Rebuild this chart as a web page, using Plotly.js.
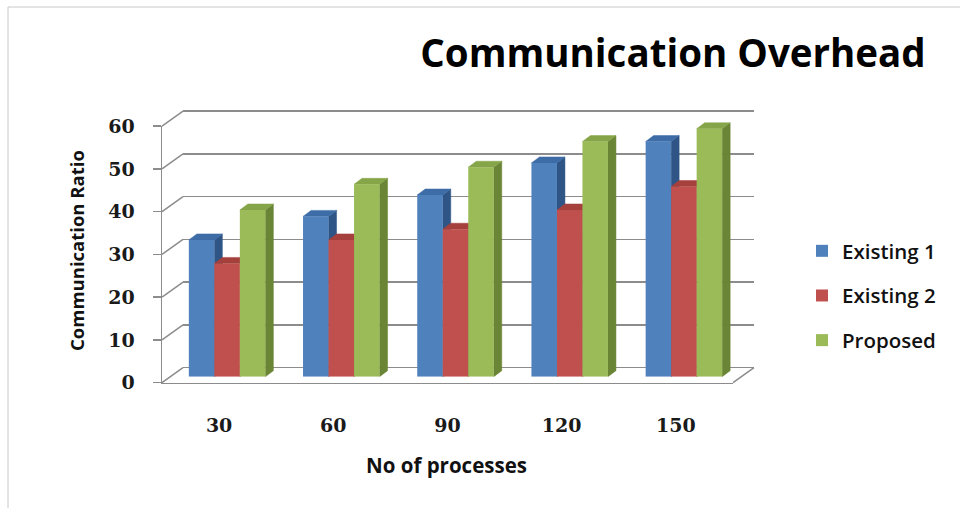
<!DOCTYPE html>
<html>
<head>
<meta charset="utf-8">
<script src="https://cdn.plot.ly/plotly-3.0.1.min.js"></script>
<style>
  html, body { margin: 0; padding: 0; background: #ffffff; }
  #chart { width: 960px; height: 508px; }
</style>
</head>
<body>
<div id="chart"></div>
<script>
// ---- data ----
const categories = ['30', '60', '90', '120', '150'];
const seriesNames = ['Existing 1', 'Existing 2', 'Proposed'];
const existing1 = [32, 37.5, 42.5, 50, 55];
const existing2 = [26.5, 32, 34.5, 39, 44.5];
const proposed = [39, 45, 49, 55, 58];
const yTicks = [0, 10, 20, 30, 40, 50, 60];

// ---- styling ----
const frontColors = ['#4f81bd', '#c0504d', '#9bbb59'];
const topColors = ['#3d6ca6', '#a5403d', '#86a548'];
const sideColors = ['#2e5585', '#8a3431', '#6a8535'];
const gridColor = '#8c8c8c';

// ---- pseudo-3D box geometry (pixels) ----
const W = 960, H = 508;
const FRONT = { x0: 162, x1: 733, y0: 382.7 };   // front floor edge at value 0
const K = 4.275;                                   // pixels per value unit
const YMAX = 60;
const BAR_SHIFT = { dx: 8, dy: -6 };               // bar plane behind the front edge
const BACK_SHIFT = { dx: 21, dy: -15 };            // back wall behind the front edge
const DEPTH_PX = { dx: 8, dy: 6 };                 // thickness of each bar
const GAP = 0.33;                                  // gap between category groups

const xdom = (a, b) => [a / W, b / W];
const ydom = (bottom, top) => [1 - bottom / H, 1 - top / H];

const nCat = categories.length;
const catIdx = categories.map((_, i) => i);
const pxPerCat = (FRONT.x1 - FRONT.x0) / nCat;
const depthX = DEPTH_PX.dx / pxPerCat;
const depthY = DEPTH_PX.dy / K;
const barW = (1 - GAP) / 3;

const values = [existing1, existing2, proposed];

// side and top faces of the bars, computed from the values
const faceTraces = [];
values.forEach((vals, s) => {
  const off = -(1 - GAP) / 2 + s * barW;
  const sx = [], sy = [], tx = [], ty = [];
  vals.forEach((v, i) => {
    const x0 = i + off, x1 = x0 + barW;
    sx.push(x1, x1 + depthX, x1 + depthX, x1, x1, null);
    sy.push(0, depthY, v + depthY, v, 0, null);
    tx.push(x0, x1, x1 + depthX, x0 + depthX, x0, null);
    ty.push(v, v, v + depthY, v + depthY, v, null);
  });
  faceTraces.push({
    type: 'scatter', mode: 'lines', x: sx, y: sy, fill: 'toself',
    fillcolor: sideColors[s], line: { color: sideColors[s], width: 0.5 },
    xaxis: 'x2', yaxis: 'y2', hoverinfo: 'skip', showlegend: false
  });
  faceTraces.push({
    type: 'scatter', mode: 'lines', x: tx, y: ty, fill: 'toself',
    fillcolor: topColors[s], line: { color: topColors[s], width: 0.5 },
    xaxis: 'x2', yaxis: 'y2', hoverinfo: 'skip', showlegend: false
  });
});

// front faces of the bars
const barTraces = values.map((vals, s) => ({
  type: 'bar', name: seriesNames[s], x: catIdx, y: vals,
  width: barW, offset: -(1 - GAP) / 2 + s * barW,
  marker: { color: frontColors[s], line: { width: 0 } },
  xaxis: 'x3', yaxis: 'y3', legendgroup: 'g' + s, hoverinfo: 'x+y+name'
}));

// placeholders so the wall and the front-axis subplots are drawn
const wallTrace = { type: 'scatter', x: [], y: [], xaxis: 'x', yaxis: 'y', showlegend: false, hoverinfo: 'skip' };
const frontTrace = { type: 'scatter', x: [], y: [], xaxis: 'x4', yaxis: 'y4', showlegend: false, hoverinfo: 'skip' };

// pixel positions
const backY0 = FRONT.y0 + BACK_SHIFT.dy;
const barY0 = FRONT.y0 + BAR_SHIFT.dy;
const yAt = (y0, v) => y0 - v * K;

// left wall diagonals and floor outline
const shapes = [];
yTicks.forEach(v => {
  shapes.push({
    type: 'line', xref: 'paper', yref: 'paper', layer: 'below',
    x0: FRONT.x0 / W, y0: 1 - yAt(FRONT.y0, v) / H,
    x1: (FRONT.x0 + BACK_SHIFT.dx) / W, y1: 1 - yAt(backY0, v) / H,
    line: { color: gridColor, width: 1.5 }
  });
});
shapes.push({
  type: 'line', xref: 'paper', yref: 'paper', layer: 'below',
  x0: FRONT.x1 / W, y0: 1 - FRONT.y0 / H,
  x1: (FRONT.x1 + BACK_SHIFT.dx) / W, y1: 1 - backY0 / H,
  line: { color: gridColor, width: 1.5 }
});
// chart frame
shapes.push({ type: 'line', xref: 'paper', yref: 'paper', x0: 8 / W, x1: 1, y0: 1 - 7 / H, y1: 1 - 7 / H, line: { color: '#c8c8c8', width: 1 } });
shapes.push({ type: 'line', xref: 'paper', yref: 'paper', x0: 8 / W, x1: 8 / W, y0: 0, y1: 1 - 7 / H, line: { color: '#c8c8c8', width: 1 } });

const hidden = { showgrid: false, zeroline: false, showline: false, showticklabels: false, ticks: '', automargin: false, fixedrange: true };
const tickFont = { family: 'DejaVu Serif, serif', size: 19, color: '#1a1a1a', weight: 'bold' };

const layout = {
  width: W, height: H,
  margin: { l: 0, r: 0, t: 0, b: 0, pad: 0 },
  paper_bgcolor: '#ffffff', plot_bgcolor: 'rgba(0,0,0,0)',
  showlegend: true,
  title: {
    text: 'Communication Overhead',
    x: 673 / W, xanchor: 'center', y: 1 - 54 / H, yanchor: 'middle',
    font: { family: 'Open Sans, sans-serif', size: 38.5, color: '#000000', weight: 'bold' }
  },
  // back wall with horizontal gridlines
  xaxis: Object.assign({}, hidden, {
    domain: xdom(FRONT.x0 + BACK_SHIFT.dx, FRONT.x1 + BACK_SHIFT.dx), range: [-0.5, nCat - 0.5]
  }),
  yaxis: Object.assign({}, hidden, {
    domain: ydom(yAt(backY0, -1), yAt(backY0, YMAX + 1)), range: [-1, YMAX + 1],
    showgrid: true, gridcolor: gridColor, gridwidth: 1.5, tickmode: 'array', tickvals: yTicks
  }),
  // bar plane: faces
  xaxis2: Object.assign({}, hidden, {
    domain: xdom(FRONT.x0 + BAR_SHIFT.dx, FRONT.x1 + BAR_SHIFT.dx), range: [-0.5, nCat - 0.5], anchor: 'y2'
  }),
  yaxis2: Object.assign({}, hidden, {
    domain: ydom(yAt(barY0, 0), yAt(barY0, YMAX)), range: [0, YMAX], anchor: 'x2'
  }),
  // bar plane: fronts, drawn over the faces
  xaxis3: Object.assign({}, hidden, { overlaying: 'x2', range: [-0.5, nCat - 0.5], anchor: 'y3' }),
  yaxis3: Object.assign({}, hidden, { overlaying: 'y2', range: [0, YMAX], anchor: 'x3' }),
  // front edge: value axis and category labels
  xaxis4: Object.assign({}, hidden, {
    domain: xdom(FRONT.x0, FRONT.x1), range: [-0.5, nCat - 0.5], anchor: 'y4',
    showline: true, linecolor: gridColor, linewidth: 1.5,
    showticklabels: true, tickmode: 'array', tickvals: catIdx, ticktext: categories,
    ticklabelstandoff: 25, tickfont: tickFont
  }),
  yaxis4: Object.assign({}, hidden, {
    domain: ydom(yAt(FRONT.y0, 0), yAt(FRONT.y0, YMAX)), range: [0, YMAX], anchor: 'x4',
    showline: true, linecolor: gridColor, linewidth: 1.5,
    ticks: 'outside', ticklen: 8, tickwidth: 1.5, tickcolor: gridColor,
    showticklabels: true, tickmode: 'array', tickvals: yTicks,
    ticklabelstandoff: 14, tickfont: tickFont
  }),
  shapes: shapes,
  annotations: [
    {
      text: 'Communication Ratio', xref: 'paper', yref: 'paper',
      x: 76 / W, y: 1 - 251 / H, textangle: -90, showarrow: false,
      xanchor: 'center', yanchor: 'middle',
      font: { family: 'Open Sans, sans-serif', size: 18.5, color: '#111111', weight: 'bold' }
    },
    {
      text: 'No of processes', xref: 'paper', yref: 'paper',
      x: 446 / W, y: 1 - 465 / H, showarrow: false,
      xanchor: 'center', yanchor: 'middle',
      font: { family: 'Open Sans, sans-serif', size: 20.5, color: '#111111', weight: 'bold' }
    }
  ],
  legend: {
    x: 802 / W, y: 1 - 231 / H, xanchor: 'left', yanchor: 'top',
    traceorder: 'grouped', tracegroupgap: 15, itemclick: false,
    font: { family: 'Open Sans, sans-serif', size: 20.5, color: '#111111', weight: 600 },
    bgcolor: 'rgba(0,0,0,0)'
  },
  barmode: 'overlay',
  hovermode: 'closest'
};

Plotly.newPlot('chart', [wallTrace].concat(faceTraces, barTraces, [frontTrace]), layout, { staticPlot: true, displayModeBar: false });
</script>
</body>
</html>
